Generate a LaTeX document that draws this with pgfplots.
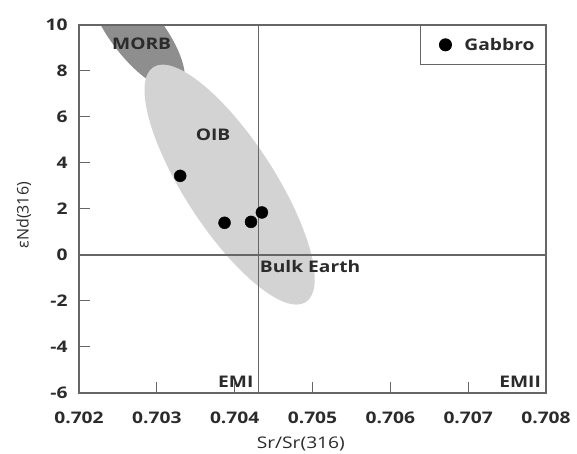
\documentclass[border=0pt]{standalone}
\usepackage{fontspec}
\setmainfont{Open Sans}
\newfontfamily\wide{Open Sans}[FakeStretch=1.2]
\usepackage{pgfplots}
\pgfplotsset{compat=1.18}
\usetikzlibrary{shapes.geometric}
\definecolor{morb}{HTML}{8E8E8E}
\definecolor{oib}{HTML}{D3D3D3}
\definecolor{ln}{HTML}{666666}
\definecolor{txt}{HTML}{2B2B2B}
\tikzset{lab/.style={font=\wide\bfseries\fontsize{16}{19}\selectfont, text=txt}}
\begin{document}
\begin{tikzpicture}
\begin{axis}[name=ax, scale only axis, width=467pt, height=368pt,
 xmin=0.702, xmax=0.708, ymin=-6, ymax=10,
 xtick={0.702,0.703,0.704,0.705,0.706,0.707,0.708},
 xticklabels={0.702,0.703,0.704,0.705,0.706,0.707,0.708},
 ytick={-6,-4,-2,0,2,4,6,8,10},
 yticklabels={-6,-4,-2,0,2,4,6,8,10},
 scaled x ticks=false,
 xtick pos=left, ytick pos=left,
 tick align=inside, major tick length=11pt,
 tick style={ln, line width=1pt},
 axis line style={ln, line width=1.3pt},
 ticklabel style={font=\wide\bfseries\fontsize{16}{19}\selectfont, text=txt},
 xticklabel style={yshift=-15pt},
 yticklabel style={xshift=-8pt},
 xlabel={Sr/Sr(316)}, ylabel={εNd(316)},
 xlabel style={at={(axis description cs:0.475,-0.152)}, anchor=base, font=\wide\fontsize{16}{19}\selectfont, text=txt},
 ylabel style={at={(axis description cs:-0.118,0.483)}, anchor=center, font=\fontsize{16}{19}\selectfont, text=txt},
 legend style={at={(1,1)}, anchor=north east, draw=ln, line width=1pt, font=\wide\bfseries\fontsize{16}{19}\selectfont, text=txt, inner xsep=9pt, inner ysep=10.5pt},
 legend cell align=left,
 legend image code/.code={\path[draw=none,fill=none] (-16pt,0pt) -- (17pt,0pt); \draw[#1] plot coordinates {(0pt,0pt)};},
 axis on top,
]
\node[ellipse, fill=morb, minimum width=140pt, minimum height=52pt, inner sep=0pt, rotate=-52] at (axis cs:0.702746,9.652) {};
\node[ellipse, fill=oib, minimum width=280pt, minimum height=90pt, inner sep=0pt, rotate=-57] at (axis cs:0.703935,3.06) {};
\addplot[ln, line width=1.2pt, forget plot] coordinates {(0.702,0) (0.708,0)};
\addplot[ln, line width=1.2pt, forget plot] coordinates {(0.70431,-6) (0.70431,10)};
\node[lab] at (axis cs:0.702805,9.20) {MORB};
\node[lab] at (axis cs:0.703722,5.21) {OIB};
\node[lab] at (axis cs:0.704969,-0.52) {Bulk Earth};
\node[lab] at (axis cs:0.704014,-5.52) {EMI};
\node[lab] at (axis cs:0.707668,-5.52) {EMII};
\addplot[only marks, mark=*, mark size=6pt, color=black, mark options={fill=black}] coordinates {(0.70330,3.44) (0.70387,1.40) (0.70421,1.44) (0.70435,1.85)};
\addlegendentry{Gabbro}
\end{axis}
\pgfresetboundingbox
\path[use as bounding box] ([shift={(-79pt,-61pt)}]ax.south west) rectangle ([shift={(31pt,25pt)}]ax.north east);
\end{tikzpicture}
\end{document}
